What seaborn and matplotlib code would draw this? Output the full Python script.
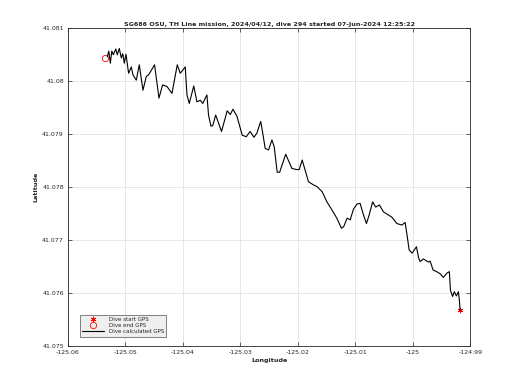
import numpy as np
import pandas as pd
import matplotlib
matplotlib.use("Agg")
import matplotlib.pyplot as plt
import seaborn as sns

# calculated track, west to east
lon = [-125.05317, -125.05290, -125.05264, -125.05238, -125.05212, -125.05169, -125.05143,
       -125.05108, -125.05073, -125.05047, -125.05021, -125.04991, -125.04946, -125.04899,
       -125.04870, -125.04812, -125.04760, -125.04696, -125.04638, -125.04598, -125.04494,
       -125.04417, -125.04355, -125.04278, -125.04191, -125.04099, -125.04047, -125.03960,
       -125.03930, -125.03890, -125.03812, -125.03757, -125.03699, -125.03656, -125.03583,
       -125.03555, -125.03513, -125.03482, -125.03430, -125.03329, -125.03230, -125.03177,
       -125.03130, -125.03061, -125.02969, -125.02899, -125.02830, -125.02765, -125.02713,
       -125.02647, -125.02621, -125.02569, -125.02511, -125.02452, -125.02412, -125.02360,
       -125.02317, -125.02212, -125.02104, -125.02017, -125.01977, -125.01925, -125.01816,
       -125.01729, -125.01670, -125.01577, -125.01496, -125.01409, -125.01322, -125.01242,
       -125.01203, -125.01143, -125.01090, -125.01033, -125.00969, -125.00917, -125.00864,
       -125.00807, -125.00760, -125.00699, -125.00647, -125.00581, -125.00511, -125.00424,
       -125.00365, -125.00278, -125.00191, -125.00134, -125.00104, -125.00064, -125.00012,
       -124.99937, -124.99899, -124.99873, -124.99816, -124.99786, -124.99729, -124.99699,
       -124.99647, -124.99586, -124.99525, -124.99468, -124.99409, -124.99364, -124.99346,
       -124.99308, -124.99278, -124.99242, -124.99207, -124.99190, -124.99177]
lat = [41.08046, 41.08057, 41.08034, 41.08057, 41.08050, 41.08061, 41.08050,
       41.08062, 41.08044, 41.08052, 41.08034, 41.08051, 41.08015, 41.08027,
       41.08012, 41.08002, 41.08031, 41.07983, 41.08009, 41.08012, 41.08031,
       41.07968, 41.07993, 41.07990, 41.07977, 41.08031, 41.08015, 41.08027,
       41.07974, 41.07958, 41.07991, 41.07961, 41.07964, 41.07958, 41.07974,
       41.07936, 41.07915, 41.07916, 41.07936, 41.07905, 41.07944, 41.07937,
       41.07947, 41.07934, 41.07898, 41.07895, 41.07905, 41.07894, 41.07902,
       41.07924, 41.07908, 41.07873, 41.07870, 41.07889, 41.07876, 41.07828,
       41.07828, 41.07862, 41.07835, 41.07833, 41.07833, 41.07851, 41.07810,
       41.07804, 41.07801, 41.07791, 41.07772, 41.07757, 41.07741, 41.07722,
       41.07725, 41.07741, 41.07738, 41.07758, 41.07768, 41.07769, 41.07749,
       41.07731, 41.07747, 41.07772, 41.07762, 41.07766, 41.07753, 41.07747,
       41.07743, 41.07731, 41.07728, 41.07733, 41.07712, 41.07681, 41.07675,
       41.07687, 41.07666, 41.07659, 41.07664, 41.07662, 41.07658, 41.07660,
       41.07643, 41.07640, 41.07636, 41.07629, 41.07637, 41.07640, 41.07605,
       41.07593, 41.07602, 41.07594, 41.07602, 41.07586, 41.07567]

start_gps = (-124.99177, 41.07567)
end_gps = (-125.05351, 41.08043)

xticks = [-125.06, -125.05, -125.04, -125.03, -125.02, -125.01, -125.0, -124.99]
xtick_labels = ["-125.06", "-125.05", "-125.04", "-125.03", "-125.02", "-125.01", "-125", "-124.99"]
yticks = [41.075, 41.076, 41.077, 41.078, 41.079, 41.08, 41.081]
ytick_labels = ["41.075", "41.076", "41.077", "41.078", "41.079", "41.08", "41.081"]

title = "SG686 OSU, TH Line mission, 2024/04/12, dive 294 started 07-Jun-2024 12:25:22"

track = pd.DataFrame({"lon": lon, "lat": lat})

sns.set_theme(style="ticks")
plt.rcParams["font.family"] = ["DejaVu Sans"]

fig = plt.figure(figsize=(5.2, 3.9), dpi=100)
ax = fig.add_axes([0.1308, 0.1136, 0.7736, 0.8138])

# MATLAB-style asterisk for the start fix
ax.plot([start_gps[0]], [start_gps[1]], marker=(6, 2, 0), color="red", linestyle="none",
        markersize=4, markeredgewidth=0.6, label="Dive start GPS")
ax.plot([end_gps[0]], [end_gps[1]], marker="o", markerfacecolor="none", markeredgecolor="red",
        linestyle="none", markersize=4.5, markeredgewidth=0.6, label="Dive end GPS")
sns.lineplot(data=track, x="lon", y="lat", sort=False, estimator=None, color="black",
             linewidth=0.8, ax=ax, label="Dive calculated GPS")

ax.set_xlim(-125.06, -124.99)
ax.set_ylim(41.075, 41.081)
ax.set_xticks(xticks)
ax.set_xticklabels(xtick_labels)
ax.set_yticks(yticks)
ax.set_yticklabels(ytick_labels)
ax.grid(True, color="#e3e3e3", linewidth=0.6)
ax.set_axisbelow(True)
ax.tick_params(direction="in", length=3, width=0.5, labelsize=4.5, colors="#262626",
               top=True, right=True, pad=3)
for s in ax.spines.values():
    s.set_linewidth(0.6)
    s.set_color("#262626")

ax.set_xlabel("Longitude", fontsize=4.6, fontweight="bold", labelpad=2)
ax.set_ylabel("Latitude", fontsize=4.6, fontweight="bold", labelpad=3)
ax.set_title(title, fontsize=4.6, fontweight="bold", pad=2)

leg = ax.legend(loc="lower left", bbox_to_anchor=(0.022, 0.02), fontsize=4, frameon=True,
                fancybox=False, handlelength=4, borderpad=0.4, labelspacing=0.2)
leg.get_frame().set_facecolor("#ececec")
leg.get_frame().set_edgecolor("#262626")
leg.get_frame().set_linewidth(0.5)

fig.savefig("out.png", dpi=100)
